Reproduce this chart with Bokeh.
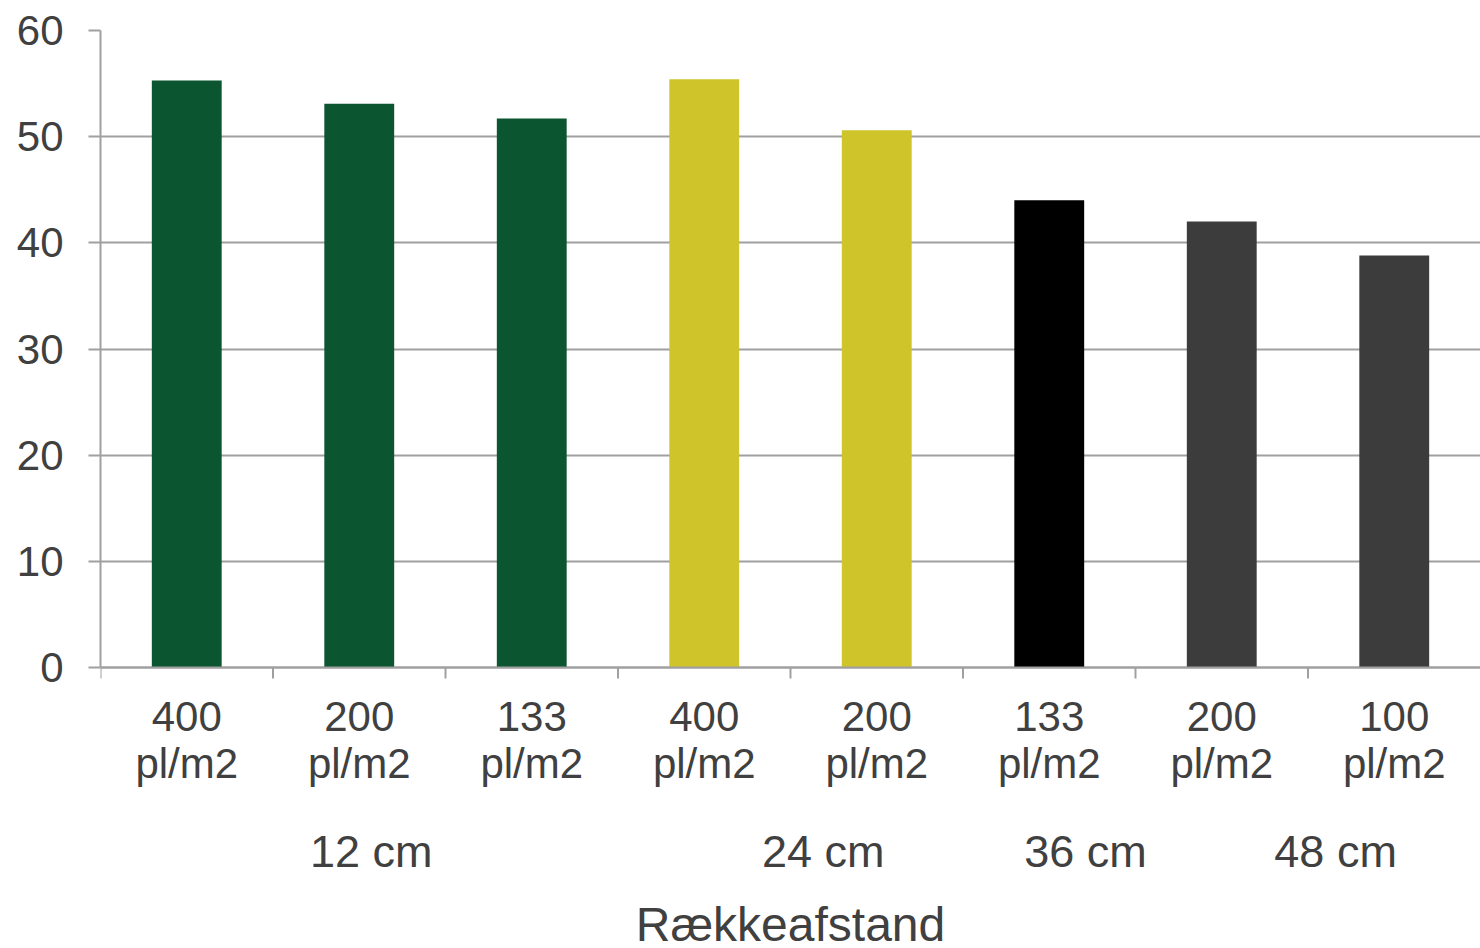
from bokeh.plotting import figure
from bokeh.models import Range1d, FixedTicker, ColumnDataSource, Span
from bokeh.core.properties import value
from bokeh.embed import file_html
from bokeh.resources import INLINE

# ---- data ----
densities = ["400", "200", "133", "400", "200", "133", "200", "100"]
density_unit = "pl/m2"
values = [55.3, 53.1, 51.7, 55.4, 50.6, 44.0, 42.0, 38.8]
bar_colors = ["#0b5630", "#0b5630", "#0b5630", "#cfc42a", "#cfc42a",
              "#000000", "#3c3c3c", "#3c3c3c"]
groups = ["12 cm", "24 cm", "36 cm", "48 cm"]
group_sizes = [3, 2, 1, 2]
axis_title = "Rækkeafstand"
y_ticks = [0, 10, 20, 30, 40, 50, 60]

# ---- layout ----
W, H = 1480, 948
TOP, LEFT = 30, 100
PLOT_H = 637            # pixel height of the 0..60 value span
ymax = 60
ppu = PLOT_H / ymax     # pixels per data unit (y)
frame_h = H - TOP
ymin = -(frame_h - PLOT_H) / ppu

FONT = "Liberation Sans"
TXT = "#404040"
GRID = "#a0a0a0"

n = len(values)
xs = [i + 0.5 for i in range(n)]
src = ColumnDataSource(dict(x=xs, top=values, color=bar_colors))

p = figure(width=W, height=H, output_backend="svg", toolbar_location=None,
           x_range=Range1d(0, n), y_range=Range1d(ymin, ymax),
           x_axis_location=None,
           min_border_left=LEFT, min_border_right=0,
           min_border_top=TOP, min_border_bottom=0)
p.outline_line_color = None
p.background_fill_color = "white"
p.border_fill_color = "white"

p.xgrid.grid_line_color = None
p.ygrid.grid_line_color = GRID
p.ygrid.grid_line_width = 2
p.ygrid.ticker = FixedTicker(ticks=y_ticks)
p.ygrid.bounds = (0, ymax)

p.vbar(x="x", top="top", bottom=0, width=0.405, color="color", source=src,
       line_color=None)

# y axis
ya = p.yaxis[0]
ya.bounds = (0, ymax)
ya.ticker = FixedTicker(ticks=y_ticks)
ya.axis_line_color = GRID
ya.axis_line_width = 2
ya.major_tick_line_color = GRID
ya.major_tick_line_width = 2
ya.major_tick_out = 12
ya.major_tick_in = 0
ya.minor_tick_line_color = None
ya.major_label_standoff = 25
ya.major_label_text_font = FONT
ya.major_label_text_font_size = "42px"
ya.major_label_text_color = TXT

# x axis line and category tick marks (drawn in the frame)
p.add_layout(Span(location=0, dimension="width", line_color=GRID,
                  line_width=2))
tick_x = list(range(n))
p.segment(x0=tick_x, y0=[0] * n, x1=tick_x, y1=[-11 / ppu] * n,
          line_color=GRID, line_width=2)


def ybelow(px):
    return -px / ppu


def add_text(xv, px_below, texts, size):
    p.text(x=xv, y=[ybelow(px_below)] * len(xv), text=texts,
           text_align="center", text_baseline="alphabetic",
           text_font=value(FONT), text_font_size=value(size),
           text_color=TXT)


add_text(xs, 49, densities, "42px")
add_text(xs, 96, [density_unit] * n, "42px")

# group labels (positioned as in the reference, nudged right of group centre)
group_nudge = [0.07, 0.19, 0.21, 0.16]
gx = []
start = 0
for sz, nd in zip(group_sizes, group_nudge):
    gx.append(start + sz / 2 + nd)
    start += sz
add_text(gx, 184, groups, "45px")

add_text([n / 2], 257, [axis_title], "48px")

open("out.html", "w").write(file_html(p, INLINE))
